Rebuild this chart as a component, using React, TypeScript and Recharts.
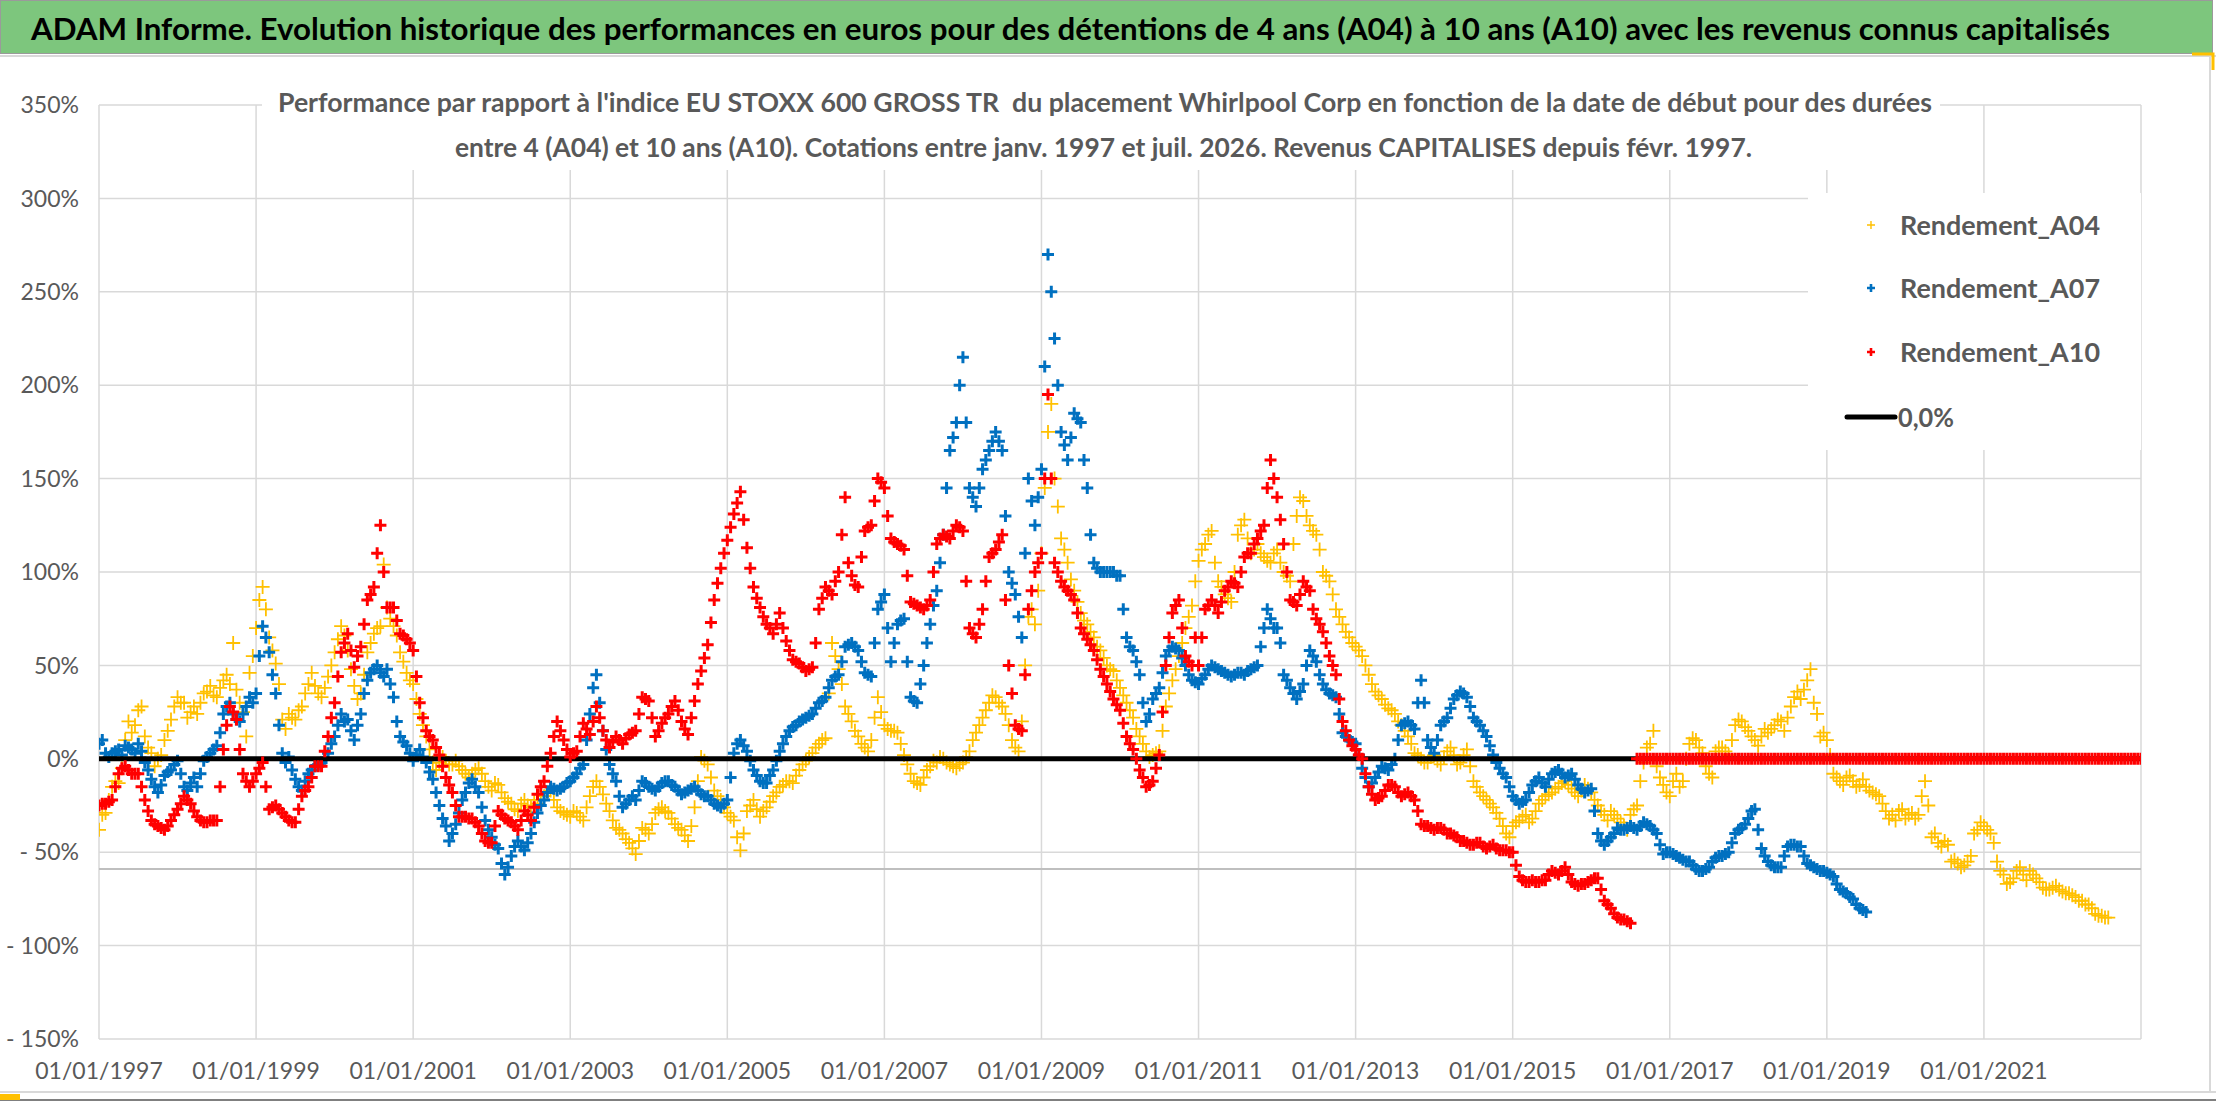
import React from 'react';
import { CartesianGrid, ReferenceLine, Scatter, ScatterChart, XAxis, YAxis } from 'recharts';

// readings taken at the start of each month, first value = January 1997
const startYear = 1997;

const a04 = [
  -38, -29, -15, -13, 10, 14, 26, 12, 3, 0, 10, 21,
  33, 30, 25, 24, 35, 39, 33, 42, 40, 37, 25, 46,
  70, 92, 65, 51, 21, 24, 21, 28, 40, 39, 33, 44,
  57, 71, 58, 39, 35, 57, 67, 71, 81, 71, 57, 46,
  40, 24, 12, -2, -2, -1, -3, -4, -8, -8, -5, -12,
  -17, -14, -21, -24, -28, -22, -26, -24, -20, -17, -26, -29,
  -31, -29, -33, -20, -12, -19, -28, -37, -40, -45, -51, -37,
  -40, -29, -26, -29, -35, -38, -44, -26, 1, -3, -17, -22,
  -29, -33, -49, -28, -22, -31, -26, -20, -15, -12, -13, -6,
  -1, 3, 8, 11, 62, 48, 28, 20, 12, 6, 10, 33,
  18, 15, 14, 2, -8, -13, -10, -4, -2, 0, -3, -5,
  -2, 4, 14, 22, 30, 33, 28, 18, 6, 20, 76, 72,
  110, 175, 150, 118, 105, 90, 78, 72, 65, 58, 50, 47,
  38, 30, 22, 12, 4, 2, 4, 28, 42, 55, 70, 82,
  106, 115, 122, 95, 88, 84, 120, 128, 110, 115, 108, 105,
  112, 100, 95, 130, 138, 125, 120, 100, 95, 80, 72, 65,
  60, 55, 45, 36, 32, 27, 24, 18, 12, 3, 0, -2,
  2, -3, 4, 2, -2, 5, -12, -18, -22, -26, -32, -40,
  -36, -33, -30, -32, -24, -20, -18, -15, -12, -16, -20, -14,
  -18, -25, -30, -28, -32, -36, -30, -25, -2, 8, -4, -14,
  -20, -8, -12, 8, 10, 3, -8, 4, 6, 2, 18, 20,
  15, 10, 12, 14, 18, 20, 22, 33, 32, 42, 30, 12,
  10, -8, -12, -10, -12, -14, -15, -18, -20, -28, -30, -28,
  -32, -29, -30, -12, -42, -45, -44, -55, -56, -57, -52, -38,
  -36, -40, -55, -62, -66, -60, -62, -60, -64, -69, -70, -68,
  -71, -72, -74, -76, -78, -83, -84, -85,
];

// mid-month readings (other edge of the band), first value = mid January 1997
const a04Mid = [
  -30, -22, -12, -5, 20, 18, 28, 6, -4, 2, 15, 28,
  30, 22, 28, 30, 36, 34, 38, 45, 62, 30, 12, 55,
  85, 80, 58, 40, 16, 22, 26, 35, 46, 35, 38, 50,
  64, 66, 48, 32, 45, 62, 70, 104, 75, 66, 52, 42,
  32, 18, 5, -6, 1, -3, -1, -6, -10, -6, -8, -15,
  -13, -18, -23, -27, -24, -25, -22, -22, -18, -22, -28, -30,
  -28, -31, -26, -15, -15, -24, -33, -38, -43, -48, -44, -38,
  -35, -27, -28, -32, -37, -41, -36, -12, -1, -10, -20, -26,
  -31, -42, -40, -25, -27, -28, -23, -18, -14, -12, -9, -3,
  1, 6, 10, 35, 55, 40, 24, 15, 8, 4, 22, 25,
  16, 15, 8, -3, -12, -14, -6, -1, 1, -2, -4, -3,
  1, 10, 18, 26, 34, 30, 24, 10, 4, 50, 80, 90,
  145, 190, 135, 112, 96, 84, 74, 68, 60, 54, 48, 42,
  34, 26, 16, 8, 1, 3, 15, 35, 48, 62, 76, 95,
  112, 120, 105, 92, 86, 100, 125, 118, 112, 110, 106, 110,
  105, 98, 115, 140, 130, 122, 112, 98, 88, 76, 68, 62,
  58, 50, 40, 34, 29, 26, 20, 15, 8, 2, -2, 1,
  -1, 1, 6, -3, 2, -4, -15, -20, -24, -29, -36, -42,
  -34, -31, -34, -28, -22, -19, -16, -13, -14, -18, -17, -16,
  -22, -28, -33, -30, -34, -38, -27, -12, 6, 15, -10, -18,
  -12, -15, 0, 11, 6, -4, -10, 6, 4, 10, 21, 17,
  12, 7, 16, 16, 21, 15, 28, 36, 37, 48, 24, 14,
  2, -10, -14, -9, -15, -11, -17, -19, -24, -32, -33, -27,
  -30, -32, -20, -25, -40, -47, -46, -54, -58, -55, -40, -34,
  -38, -45, -60, -67, -64, -58, -65, -62, -66, -70, -69, -70,
  -72, -73, -76, -78, -80, -84, -85,
];

const a07 = [
  8, 3, 3, 5, 7, 5, 8, -2, -11, -18, -9, -6,
  -1, -15, -13, -15, -1, 3, 7, 24, 30, 21, 24, 33,
  35, 71, 57, 35, 3, 1, -11, -17, -8, -4, -2, 3,
  12, 24, 21, 10, 24, 42, 48, 46, 48, 33, 12, 7,
  -1, 5, -2, -11, -25, -36, -40, -29, -18, -11, -18, -33,
  -42, -48, -62, -52, -44, -49, -40, -29, -22, -15, -17, -15,
  -12, -8, -3, 24, 45, 15, -3, -12, -26, -22, -22, -12,
  -15, -17, -13, -12, -15, -19, -17, -15, -19, -20, -24, -26,
  -22, 3, 10, 4, -6, -12, -13, -6, 4, 12, 17, 20,
  22, 24, 30, 33, 42, 45, 60, 62, 58, 46, 44, 80,
  88, 52, 72, 75, 33, 30, 50, 72, 90, 120, 165, 180,
  215, 145, 135, 155, 165, 175, 165, 100, 88, 65, 150, 125,
  155, 270, 225, 175, 160, 185, 180, 145, 105, 100, 100, 100,
  98, 65, 58, 45, 20, 32, 38, 55, 60, 58, 50, 42,
  40, 45, 50, 48, 46, 44, 46, 45, 48, 50, 70, 75,
  70, 45, 38, 32, 40, 58, 52, 40, 35, 33, 14, 10,
  8, -5, -15, -10, -4, -6, 0, 18, 20, 16, 42, 10,
  3, 18, 22, 32, 36, 33, 22, 18, 12, 2, -5, -10,
  -20, -24, -22, -14, -10, -15, -8, -6, -10, -8, -14, -18,
  -16, -40, -46, -42, -37, -38, -36, -38, -34, -36, -40, -51,
  -50, -52, -54, -55, -59, -60, -58, -53, -52, -50, -40, -37,
  -32, -27, -48, -55, -58, -58, -47, -46, -47, -56, -58, -60,
  -61, -63, -70, -72, -75, -80, -82,
];

const a07Mid = [
  10, 1, 4, 2, 6, 3, 4, -6, -15, -14, -7, -3,
  -8, -17, -10, -8, 1, 5, 14, 28, 24, 20, 28, 30,
  55, 65, 45, 18, -2, -6, -15, -12, -6, -3, 0, 8,
  18, 20, 15, 18, 35, 46, 50, 44, 40, 20, 9, 3,
  2, 1, -7, -18, -32, -44, -35, -22, -13, -15, -26, -38,
  -46, -56, -58, -47, -47, -45, -34, -25, -18, -16, -16, -13,
  -10, -5, 10, 38, 30, 5, -8, -20, -24, -20, -17, -13,
  -16, -15, -12, -14, -17, -18, -16, -17, -20, -22, -25, -24,
  -10, 8, 7, -1, -9, -13, -9, -1, 8, 15, 18, 21,
  23, 27, 31, 38, 44, 52, 61, 60, 52, 45, 62, 84,
  70, 62, 74, 52, 31, 40, 62, 82, 105, 145, 172, 200,
  180, 140, 145, 160, 170, 170, 130, 94, 76, 110, 138, 140,
  210, 250, 200, 168, 172, 182, 160, 120, 102, 100, 100, 98,
  80, 60, 52, 30, 24, 35, 46, 58, 59, 54, 45, 41,
  43, 48, 49, 47, 45, 45, 46, 47, 49, 60, 80, 70,
  62, 42, 35, 36, 50, 55, 45, 37, 34, 24, 12, 9,
  2, -10, -13, -7, -5, -3, 10, 19, 18, 30, 30, 6,
  10, 20, 27, 34, 35, 28, 20, 15, 7, -2, -8, -15,
  -22, -23, -18, -12, -13, -11, -7, -8, -9, -11, -16, -17,
  -28, -44, -44, -40, -38, -37, -37, -36, -35, -38, -46, -50,
  -51, -53, -55, -57, -60, -59, -55, -52, -51, -45, -38, -35,
  -28, -38, -52, -57, -58, -52, -46, -47, -52, -57, -59, -60,
  -62, -67, -71, -74, -78, -81,
];

const a10 = [
  -25, -24, -22, -8, -4, -8, -8, -22, -33, -36, -38, -33,
  -27, -20, -24, -31, -34, -33, -33, 5, 28, 21, -8, -15,
  -8, -2, -27, -25, -29, -33, -34, -20, -15, -4, -4, 12,
  30, 57, 67, 49, 60, 85, 92, 125, 81, 81, 67, 64,
  58, 30, 15, 10, 2, -10, -18, -31, -31, -32, -36, -44,
  -45, -28, -32, -34, -38, -28, -33, -19, -12, 3, 20, 10,
  1, 4, 19, 13, 28, 15, 6, 12, 8, 13, 15, 33,
  31, 12, 19, 24, 31, 20, 13, 31, 47, 61, 85, 102,
  117, 131, 143, 113, 92, 81, 72, 67, 78, 63, 53, 51,
  47, 49, 80, 92, 88, 100, 140, 98, 92, 122, 125, 150,
  145, 118, 115, 112, 84, 82, 80, 85, 115, 120, 118, 125,
  122, 70, 65, 80, 108, 112, 120, 50, 18, 15, 80, 100,
  110, 195, 105, 95, 90, 85, 70, 64, 58, 48, 40, 32,
  26, 12, 5, -6, -15, -12, 2, 50, 78, 85, 55, 50,
  50, 80, 85, 78, 90, 95, 92, 108, 110, 118, 125, 160,
  140, 115, 85, 82, 95, 90, 75, 68, 55, 45, 20, 10,
  5, 0, -15, -22, -20, -14, -15, -20, -18, -22, -35, -36,
  -38, -37, -40, -41, -44, -45, -46, -45, -48, -46, -49, -49,
  -50, -63, -66, -65, -66, -65, -60, -62, -58, -66, -68, -67,
  -65, -64, -76, -80, -85, -86, -88,
];

const a10Mid = [
  -24, -23, -15, -5, -6, -8, -15, -28, -35, -37, -36, -30,
  -24, -22, -28, -33, -34, -33, -15, 18, 25, 5, -12, -12,
  -5, -15, -26, -27, -31, -34, -27, -17, -10, -4, 4, 22,
  44, 62, 58, 55, 72, 88, 110, 100, 81, 74, 66, 62,
  44, 22, 12, 6, -4, -14, -25, -31, -32, -34, -40, -45,
  -36, -30, -33, -36, -33, -30, -26, -15, -4, 12, 15, 5,
  3, 12, 16, 20, 22, 10, 9, 10, 11, 14, 24, 32,
  22, 15, 22, 28, 26, 16, 22, 40, 54, 73, 94, 110,
  124, 137, 128, 102, 86, 76, 70, 72, 70, 58, 52, 49,
  48, 62, 86, 90, 95, 120, 105, 93, 108, 124, 138, 148,
  130, 116, 114, 98, 83, 81, 82, 100, 118, 119, 122, 124,
  95, 67, 72, 95, 110, 116, 85, 35, 16, 45, 90, 105,
  150, 150, 100, 92, 88, 78, 67, 61, 53, 44, 36, 29,
  19, 8, 0, -10, -14, -5, 25, 65, 82, 70, 52, 65,
  65, 82, 82, 84, 92, 94, 100, 110, 115, 122, 145, 150,
  128, 100, 84, 88, 92, 80, 72, 62, 50, 32, 15, 7,
  2, -8, -19, -21, -17, -14, -18, -19, -20, -28, -36, -37,
  -37, -38, -40, -42, -44, -46, -45, -47, -47, -48, -49, -50,
  -57, -65, -66, -66, -65, -62, -61, -60, -62, -67, -67, -66,
  -64, -70, -78, -83, -86, -87,
];

// A10 shown at 0 every half month once the 10-year window is incomplete (Aug 2016 -> Jan 2023)
const a10Zero = [
  0, 0, 0, 0, 0, 0, 0, 0, 0, 0,
  0, 0, 0, 0, 0, 0, 0, 0, 0, 0, 0, 0, 0, 0, 0, 0, 0, 0, 0, 0, 0, 0, 0, 0,
  0, 0, 0, 0, 0, 0, 0, 0, 0, 0, 0, 0, 0, 0, 0, 0, 0, 0, 0, 0, 0, 0, 0, 0,
  0, 0, 0, 0, 0, 0, 0, 0, 0, 0, 0, 0, 0, 0, 0, 0, 0, 0, 0, 0, 0, 0, 0, 0,
  0, 0, 0, 0, 0, 0, 0, 0, 0, 0, 0, 0, 0, 0, 0, 0, 0, 0, 0, 0, 0, 0, 0, 0,
  0, 0, 0, 0, 0, 0, 0, 0, 0, 0, 0, 0, 0, 0, 0, 0, 0, 0, 0, 0, 0, 0, 0, 0,
  0, 0, 0, 0, 0, 0, 0, 0, 0, 0, 0, 0, 0, 0, 0, 0, 0, 0, 0, 0, 0, 0, 0, 0,
  0,
];

const zeroLine = [
  { x: 1997, y: 0 },
  { x: 2023, y: 0 },
];

const xTicks = [1997, 1999, 2001, 2003, 2005, 2007, 2009, 2011, 2013, 2015, 2017, 2019, 2021];
const yTicks = [-150, -100, -50, 0, 50, 100, 150, 200, 250, 300, 350];

const title =
  'ADAM Informe. Evolution historique des performances en euros pour des détentions de 4 ans (A04) à 10 ans (A10) avec les revenus connus capitalisés';
const subtitle1 =
  "Performance par rapport à l'indice EU STOXX 600 GROSS TR  du placement Whirlpool Corp en fonction de la date de début pour des durées";
const subtitle2 =
  'entre 4 (A04) et 10 ans (A10). Cotations entre janv. 1997 et juil. 2026. Revenus CAPITALISES depuis févr. 1997.';

const FONT = "Lato, 'Open Sans', sans-serif";
const GREY = '#595959';

const toPoints = (values: number[], firstMonth: number, step = 1) =>
  values.map((v, i) => ({ x: startYear + (firstMonth + i * step) / 12, y: v }));

const pts04 = [...toPoints(a04, 0), ...toPoints(a04Mid, 0.5)];
const pts07 = [...toPoints(a07, 0), ...toPoints(a07Mid, 0.5)];
const pts10 = [
  ...toPoints(a10, 0),
  ...toPoints(a10Mid, 0.5),
  ...toPoints(a10Zero, a10.length, 0.5),
];

const cross = (color: string, r: number, w: number) => (props: any) => {
  const { cx, cy } = props;
  if (cx == null || cy == null) return <g />;
  return (
    <path
      d={`M${cx - r},${cy}H${cx + r}M${cx},${cy - r}V${cy + r}`}
      stroke={color}
      strokeWidth={w}
      fill="none"
    />
  );
};

const pct = (v: number) => (v < 0 ? `- ${Math.abs(v)}%` : `${v}%`);

const legendItems = [
  { name: 'Rendement_A04', color: '#FFC000', w: 1.4, y: 32 },
  { name: 'Rendement_A07', color: '#0070C0', w: 2.6, y: 95 },
  { name: 'Rendement_A10', color: '#FF0000', w: 2.6, y: 159 },
];

const App: React.FC = () => {
  return (
    <div
      style={{
        position: 'absolute',
        left: 0,
        top: 0,
        width: 2216,
        height: 1102,
        background: '#ffffff',
        overflow: 'hidden',
      }}
    >
      <ScatterChart
        width={2216}
        height={1102}
        margin={{ top: 105, right: 75, bottom: 0, left: 0 }}
        style={{ position: 'absolute', left: 0, top: 0 }}
      >
        <CartesianGrid stroke="#d9d9d9" strokeWidth={1.5} />
        <XAxis
          type="number"
          dataKey="x"
          domain={[1997, 2023]}
          ticks={xTicks}
          tickFormatter={(v) => `01/01/${v}`}
          height={63}
          axisLine={false}
          tickLine={false}
          tickSize={0}
          tickMargin={24}
          tick={{ fontFamily: FONT, fontSize: 23, fill: GREY }}
          allowDataOverflow
        />
        <YAxis
          type="number"
          dataKey="y"
          domain={[-150, 350]}
          ticks={yTicks}
          tickFormatter={pct}
          width={99}
          axisLine={false}
          tickLine={false}
          tickSize={0}
          tickMargin={20}
          tick={{ fontFamily: FONT, fontSize: 23, fill: GREY }}
          allowDataOverflow
        />
        <ReferenceLine y={-59} stroke="#bfbfbf" strokeWidth={2} />
        <Scatter
          name="Rendement_A04"
          data={pts04}
          shape={cross('#FFC000', 7, 1.8)}
          isAnimationActive={false}
        />
        <Scatter
          name="Rendement_A07"
          data={pts07}
          shape={cross('#0070C0', 6, 3)}
          isAnimationActive={false}
        />
        <Scatter
          name="0,0%"
          data={zeroLine}
          line={{ stroke: '#000000', strokeWidth: 5 }}
          shape={() => <g />}
          isAnimationActive={false}
        />
        <Scatter
          name="Rendement_A10"
          data={pts10}
          shape={cross('#FF0000', 6, 3)}
          isAnimationActive={false}
        />
      </ScatterChart>

      <svg
        width={2216}
        height={1102}
        style={{ position: 'absolute', left: 0, top: 0, pointerEvents: 'none' }}
      >
        {/* header band */}
        <rect x={0.5} y={0.5} width={2212} height={53} fill="#7dc67d" stroke="#9a9a9a" strokeWidth={1} />
        <text
          x={31}
          y={40}
          fontFamily={FONT}
          fontWeight="bold"
          fontSize={30}
          fill="#000000"
          textLength={2079}
          lengthAdjust="spacingAndGlyphs"
        >
          {title}
        </text>
        <line x1={0} y1={56} x2={2216} y2={56} stroke="#d9d9d9" strokeWidth={2} />
        <path d="M2192,54H2213V70" stroke="#ffc000" strokeWidth={3} fill="none" />
        <line x1={2210} y1={57} x2={2210} y2={1092} stroke="#d9d9d9" strokeWidth={2} />
        <line x1={0} y1={1092} x2={2216} y2={1092} stroke="#d9d9d9" strokeWidth={2} />
        <line x1={0} y1={1100} x2={2216} y2={1100} stroke="#7f7f7f" strokeWidth={2} />
        <rect x={0} y={1094} width={20} height={6} fill="#ffc000" />

        {/* chart title */}
        <rect x={262} y={84} width={1678} height={86} fill="#ffffff" />
        <text
          x={278}
          y={112}
          fontFamily={FONT}
          fontWeight="bold"
          fontSize={27}
          fill={GREY}
          textLength={1654}
          lengthAdjust="spacingAndGlyphs"
          xmlSpace="preserve"
        >
          {subtitle1}
        </text>
        <text
          x={455}
          y={157}
          fontFamily={FONT}
          fontWeight="bold"
          fontSize={27}
          fill={GREY}
          textLength={1297}
          lengthAdjust="spacingAndGlyphs"
        >
          {subtitle2}
        </text>

        {/* legend */}
        <g transform="translate(1808,193)">
          <rect x={0} y={0} width={333} height={257} fill="#ffffff" />
          {legendItems.map((it) => (
            <g key={it.name}>
              <path
                d={`M${59},${it.y}H${67}M${63},${it.y - 4}V${it.y + 4}`}
                stroke={it.color}
                strokeWidth={it.w}
              />
              <text
                x={92}
                y={it.y + 10}
                fontFamily={FONT}
                fontWeight="bold"
                fontSize={27}
                fill={GREY}
                textLength={200}
                lengthAdjust="spacingAndGlyphs"
              >
                {it.name}
              </text>
            </g>
          ))}
          <line x1={39} y1={224} x2={87} y2={224} stroke="#000000" strokeWidth={5} strokeLinecap="round" />
          <text
            x={90}
            y={234}
            fontFamily={FONT}
            fontWeight="bold"
            fontSize={27}
            fill={GREY}
            textLength={56}
            lengthAdjust="spacingAndGlyphs"
          >
            0,0%
          </text>
        </g>
      </svg>
    </div>
  );
};

export default App;
